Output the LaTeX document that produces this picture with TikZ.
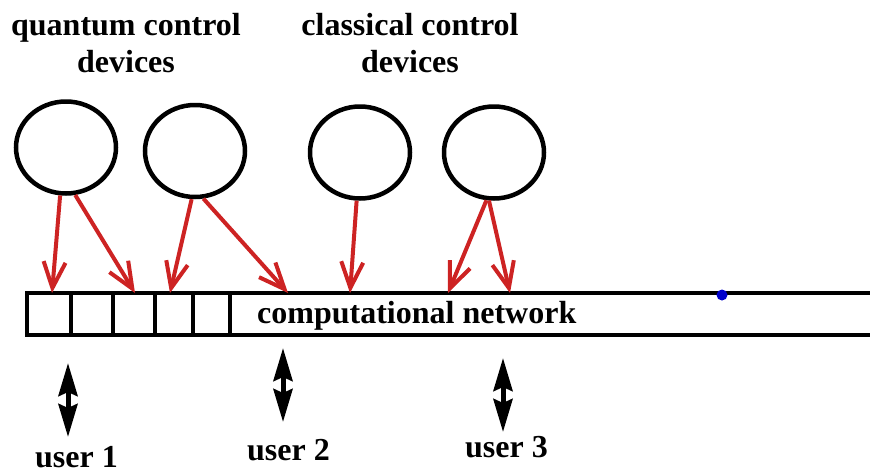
\documentclass[tikz,border=0pt]{standalone}
\usepackage{fontspec}
\setmainfont{Liberation Serif}
\usetikzlibrary{arrows.meta,shapes.geometric}
\definecolor{feedred}{RGB}{205,35,35}
\tikzset{
	device/.style={draw, ellipse, line width=4.5pt, minimum width=100pt, minimum height=92pt, inner sep=0pt},
	feed/.style={draw=feedred, line width=4pt, -{Straight Barb[length=26pt,width=22pt,line width=4pt]}},
	talk/.style={line width=5pt, preaction={draw, -, shorten <=14pt, shorten >=14pt},
		{Stealth[length=33pt,width=19pt,inset=4pt]}-{Stealth[length=33pt,width=19pt,inset=4pt]}},
	lbl/.style={font=\bfseries\fontsize{32}{37}\selectfont, inner sep=0pt, align=center}
}

\begin{document}
\begin{tikzpicture}[x=1pt, y=-1pt]
		%%%%% START %%%%%
		\useasboundingbox (0, 0) rectangle (870, 475);
		
		\node[lbl, anchor=north] (qtitle) at (126, 13) {quantum control\\devices};
		\node[lbl, anchor=north] (ctitle) at (410, 13) {classical control\\devices};
		
		\node[device] (qc1) at (66, 147.5) {};
		\node[device] (qc2) at (195, 151) {};
		\node[device] (cc1) at (360, 152.5) {};
		\node[device] (cc2) at (494, 152.5) {};
		
		\draw[line width=4.5pt] (27, 293) rectangle (885, 335);
		\foreach \x in {71, 113, 155, 193, 230}
			\draw[line width=4pt] (\x, 293) -- (\x, 335);
		\node[lbl, anchor=base west] (net) at (257, 323) {computational network};
		\fill[blue!80!black] (722, 295) circle (5.5);
		
		\coordinate (t1) at (52, 293);
		\coordinate (t2) at (135, 293);
		\coordinate (t3) at (170, 293);
		\coordinate (t4) at (288, 293);
		\coordinate (t5) at (350, 293);
		\coordinate (t6) at (448, 293);
		\coordinate (t7) at (510, 293);
		
		\draw[feed] (qc1.-97) -- (t1);
		\draw[feed] (qc1.-79) -- (t2);
		\draw[feed] (qc2.-94) -- (t3);
		\draw[feed] (qc2.-80) -- (t4);
		\draw[feed] (cc1.-94) -- (t5);
		\draw[feed] (cc2.-99) -- (t6);
		\draw[feed] (cc2.-96) -- (t7);
		
		\node[lbl, anchor=base west] (u1) at (35, 467) {user 1};
		\node[lbl, anchor=base west] (u2) at (247, 460) {user 2};
		\node[lbl, anchor=base west] (u3) at (465, 457) {user 3};
		
		\coordinate (a1) at (68, 437);
		\coordinate (a2) at (283, 422);
		\coordinate (a3) at (503, 432);
		\draw[talk] (a1) -- ++(0, -74);
		\draw[talk] (a2) -- ++(0, -74);
		\draw[talk] (a3) -- ++(0, -74);
		%%%%% END %%%%%
	\end{tikzpicture}
\end{document}
